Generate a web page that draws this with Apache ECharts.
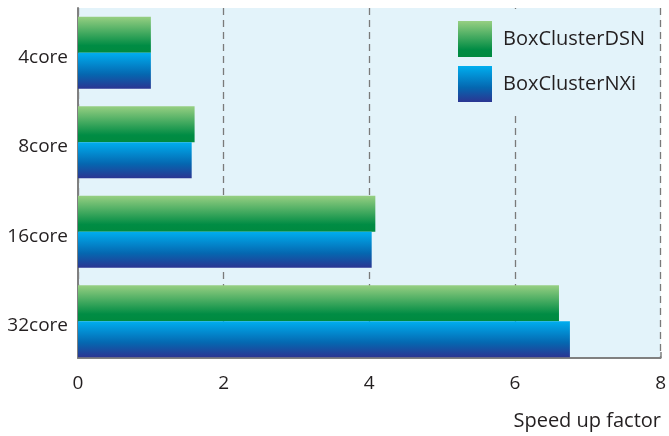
<!DOCTYPE html>
<html><head><meta charset="utf-8">
<script src="https://cdn.jsdelivr.net/npm/echarts@6/dist/echarts.min.js"></script>
<style>html,body{margin:0;padding:0;background:#fff}#c{width:669px;height:436px}</style>
</head><body><div id="c"></div>
<script>
var categories = ['4core', '8core', '16core', '32core'];
var dsnValues = [1.0, 1.6, 4.08, 6.6];
var nxiValues = [1.0, 1.56, 4.03, 6.75];
var xTicks = [0, 2, 4, 6, 8];
var seriesNames = ['BoxClusterDSN', 'BoxClusterNXi'];

var font = 'Open Sans';
var txt = '#231f20';
var green = new echarts.graphic.LinearGradient(0, 0, 0, 1, [
  {offset: 0, color: '#97cf82'}, {offset: 0.8, color: '#008c44'}, {offset: 1, color: '#008a3f'}]);
var blue = new echarts.graphic.LinearGradient(0, 0, 0, 1, [
  {offset: 0, color: '#00aeef'}, {offset: 0.6, color: '#0567b0'}, {offset: 1, color: '#2b3592'}]);

var chart = echarts.init(document.getElementById('c'));
chart.setOption({
  animation: false,
  title: {text: 'Speed up factor', right: 3, top: 406,
    textStyle: {fontFamily: font, fontSize: 20, fontWeight: 'normal', color: txt}},
  grid: [
    {left: 78, right: 8, top: 8, bottom: 78, show: true, backgroundColor: '#e3f3fa', borderWidth: 0},
    {left: 78, right: 8, top: 8, bottom: 70, show: false}
  ],
  legend: {
    left: 448, top: 9, orient: 'vertical', itemWidth: 34, itemHeight: 36, itemGap: 9, icon: 'rect',
    padding: [12, 10, 12, 10], backgroundColor: '#e3f3fa',
    textStyle: {fontFamily: font, fontSize: 20, color: txt, padding: [0, 0, 0, 6]},
    data: seriesNames
  },
  xAxis: [{
    gridIndex: 0, type: 'value', min: xTicks[0], max: xTicks[xTicks.length - 1], interval: 2,
    axisLine: {show: true, lineStyle: {color: '#808080', width: 2}},
    axisTick: {show: true, inside: true, length: 6, lineStyle: {color: '#808080', width: 1.5}},
    axisLabel: {fontFamily: font, fontSize: 19, color: txt, margin: 16},
    splitLine: {show: true, lineStyle: {color: '#7a7a7a', type: [7, 5], width: 1.3}}
  }, {
    gridIndex: 1, type: 'value', min: xTicks[0], max: xTicks[xTicks.length - 1], show: false
  }],
  yAxis: [{
    gridIndex: 0, type: 'category', data: categories, inverse: true,
    axisLine: {show: true, lineStyle: {color: '#808080', width: 2}},
    axisTick: {show: false}, axisLabel: {show: false}
  }, {
    gridIndex: 1, type: 'category', data: categories, inverse: true,
    axisLine: {show: false}, axisTick: {show: false},
    axisLabel: {margin: 10, formatter: '{a|{value}}',
      rich: {a: {fontFamily: font, fontSize: 19, color: txt, padding: [9, 0, 0, 0]}}}
  }],
  series: [
    {name: seriesNames[0], type: 'bar', xAxisIndex: 1, yAxisIndex: 1, data: dsnValues,
     barWidth: 36, barGap: '0%', itemStyle: {color: green}},
    {name: seriesNames[1], type: 'bar', xAxisIndex: 1, yAxisIndex: 1, data: nxiValues,
     barWidth: 36, barGap: '0%', itemStyle: {color: blue}}
  ]
});
</script></body></html>
